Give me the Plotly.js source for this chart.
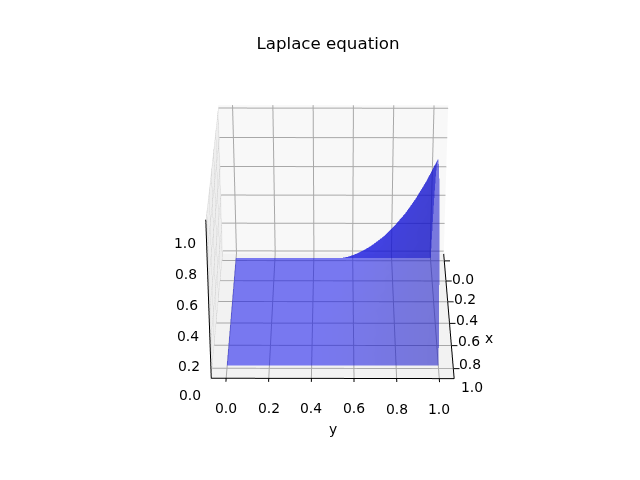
<!DOCTYPE html>
<html><head><meta charset="utf-8">
<script src="https://cdn.plot.ly/plotly-3.0.1.min.js"></script>
<style>html,body{margin:0;padding:0;background:#fff;overflow:hidden;width:640px;height:480px;position:relative}
#c{position:absolute}</style>
</head><body><div id="c"></div>
<script>
var xVals=[0,.05,.1,.15,.2,.25,.3,.35,.4,.45,.5,.55,.6,.65,.7,.75,.8,.85,.9,.95,1];
var yVals=[0,.05,.1,.15,.2,.25,.3,.35,.4,.45,.5,.55,.6,.65,.7,.75,.8,.85,.9,.95,1];
var tickVals=[0,.2,.4,.6,.8,1];
var tickText=['0.0','0.2','0.4','0.6','0.8','1.0'];
// u at each x (one row per x value), across y
var r00=[0,0,0,0,0,0,0,0,0,0,0,0,0,0,0,0,0,0,0,0,0];
var r05=[0,.002,.004,.007,.009,.012,.015,.018,.022,.026,.031,.037,.044,.051,.060,.071,.083,.097,.114,.134,.156];
var r10=[0,.004,.009,.013,.018,.023,.029,.036,.043,.052,.062,.073,.086,.101,.119,.140,.164,.192,.225,.264,.309];
var r15=[0,.006,.013,.019,.026,.034,.043,.053,.063,.076,.090,.107,.126,.149,.175,.206,.241,.283,.331,.388,.454];
var r20=[0,.008,.016,.025,.034,.044,.055,.068,.082,.098,.117,.139,.164,.193,.227,.266,.312,.366,.429,.502,.588];
var r25=[0,.010,.020,.030,.041,.053,.067,.082,.099,.118,.141,.167,.197,.232,.273,.320,.375,.440,.516,.604,.707];
var r30=[0,.011,.022,.034,.047,.061,.076,.094,.113,.136,.161,.191,.225,.265,.312,.366,.430,.504,.590,.691,.809];
var r35=[0,.012,.025,.038,.052,.067,.084,.103,.125,.149,.178,.210,.248,.292,.344,.403,.473,.555,.650,.761,.891];
var r40=[0,.013,.026,.040,.055,.072,.090,.110,.133,.159,.190,.224,.265,.312,.367,.431,.505,.592,.693,.812,.951];
var r45=[0,.014,.027,.042,.057,.074,.093,.114,.138,.165,.197,.233,.275,.324,.381,.447,.525,.615,.720,.844,.988];
var r50=[0,.014,.028,.042,.058,.075,.094,.116,.140,.167,.199,.236,.279,.328,.386,.453,.531,.622,.729,.854,1];
var uRows=[r00,r05,r10,r15,r20,r25,r30,r35,r40,r45,r50,r45,r40,r35,r30,r25,r20,r15,r10,r05,r00];
var z=yVals.map(function(_,i){return xVals.map(function(_,j){return uRows[j][i];});});
var xRange=[-0.07,1.085], yRange=[-0.07,1.07], zRange=[-0.02,1.02];

// The window only shows the middle of a larger plot, so that the weak perspective fits.
var W=1760,H=1760,cx=333,cy=237.5;
var left=cx-W/2, top0=cy-H/2;
var el=document.getElementById('c');
el.style.left=left+'px'; el.style.top=top0+'px'; el.style.width=W+'px'; el.style.height=H+'px';

function ax(bg,range){return {title:{text:''},
 range:range,autorange:false,tickmode:'array',tickvals:tickVals,ticktext:tickText,showticklabels:false,
 gridcolor:'#a8a8a8',gridwidth:2,showbackground:true,backgroundcolor:bg,showspikes:false,
 zeroline:false,showline:true,linecolor:'#000',linewidth:2,ticks:'outside',ticklen:5,tickwidth:2,tickcolor:'#000'};}
var f={family:'DejaVu Sans',size:13.9,color:'#000'};
var notes=[];
tickVals.forEach(function(t,i){
 notes.push({x:t,y:yRange[1],z:zRange[0],text:tickText[i],showarrow:false,font:f,xshift:19,yshift:-18});
 notes.push({x:xRange[1],y:t,z:zRange[0],text:tickText[i],showarrow:false,font:f,xshift:0,yshift:-30});
 notes.push({x:xRange[1],y:yRange[0],z:t,text:tickText[i],showarrow:false,font:f,xshift:-21,yshift:-20});
});
notes.push({x:0.5,y:yRange[1],z:zRange[0],text:'x',showarrow:false,font:f,xshift:40,yshift:-26});
notes.push({x:xRange[1],y:0.5,z:zRange[0],text:'y',showarrow:false,font:f,xshift:0,yshift:-51});

Plotly.newPlot('c',[{type:'surface',x:xVals,y:yVals,z:z,
 colorscale:[[0,'#1515ee'],[1,'#1515ee']],showscale:false,opacity:0.55,
 lighting:{ambient:0.8,diffuse:0.25,specular:0,roughness:1,fresnel:0},
 contours:{x:{highlight:false},y:{highlight:false},z:{highlight:false}},hoverinfo:'skip'}],
 {width:W,height:H,margin:{l:0,r:0,t:0,b:0},paper_bgcolor:'rgba(0,0,0,0)',
  title:{text:'Laplace equation',font:{family:'DejaVu Sans',size:16.67,color:'#000'},x:(328-left)/W,xanchor:'center',y:1-(43-top0)/H,yanchor:'middle'},
  scene:{domain:{x:[0,1],y:[0,1]},aspectmode:'manual',aspectratio:{x:1.013,y:1,z:0.75},annotations:notes,
   xaxis:ax('#f8f8f8',xRange),yaxis:ax('#eeeeee',yRange),zaxis:ax('#f2f2f2',zRange),
   camera:{projection:{type:'perspective'},up:{x:0,y:0,z:1},center:{x:0,y:0,z:0},eye:{x:7.79,y:0.02,z:4.5}}}},
 {displayModeBar:false});
</script></body></html>
